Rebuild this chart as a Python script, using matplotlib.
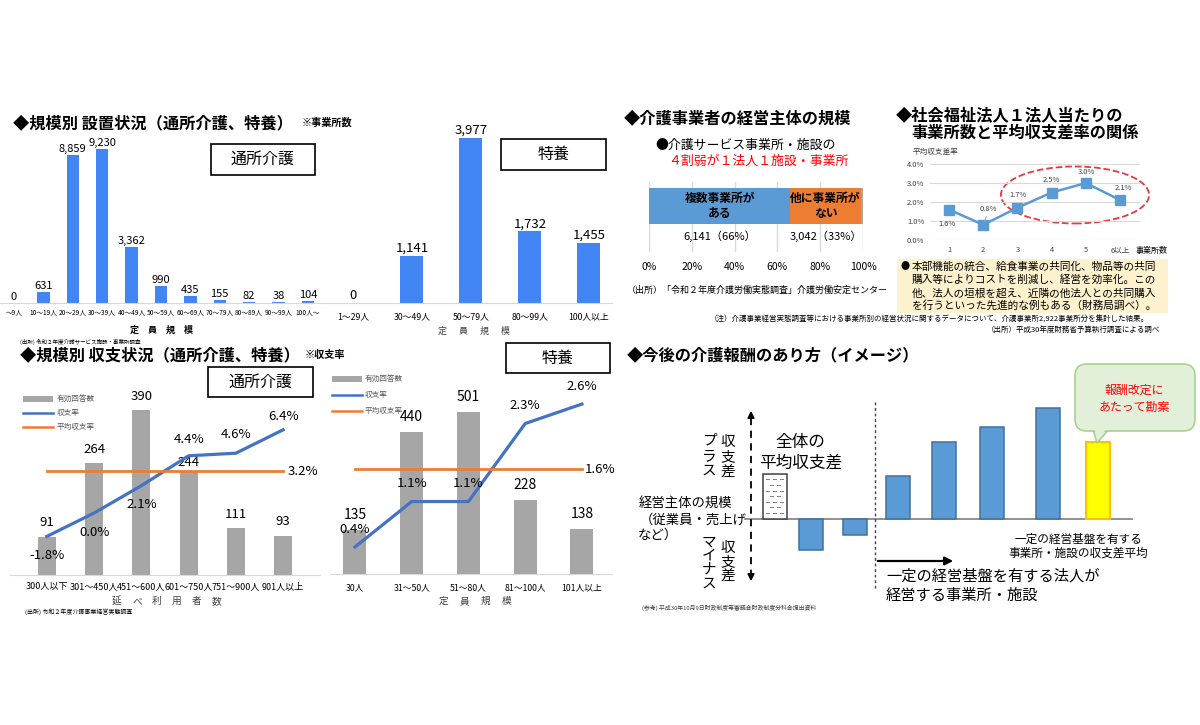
import numpy as np
import matplotlib
matplotlib.use('Agg')
import matplotlib.pyplot as plt
from matplotlib.patches import Rectangle, Ellipse, FancyBboxPatch, Polygon
from matplotlib.lines import Line2D

plt.rcParams['font.family'] = ['Noto Sans CJK JP', 'DejaVu Sans']

## Data

# 規模別 設置状況 (通所介護)
day_cats = ['～9人', '10～19人', '20～29人', '30～39人', '40～49人', '50～59人',
            '60～69人', '70～79人', '80～89人', '90～99人', '100人～']
day_counts = [0, 631, 8859, 9230, 3362, 990, 435, 155, 82, 38, 104]

# 規模別 設置状況 (特養)
tok_cats = ['1～29人', '30～49人', '50～79人', '80～99人', '100人以上']
tok_counts = [0, 1141, 3977, 1732, 1455]

# 規模別 収支状況 (通所介護)
day_users = ['300人以下', '301～450人', '451～600人', '601～750人', '751～900人', '901人以上']
day_n = [91, 264, 390, 244, 111, 93]
day_rate = [-1.8, 0.0, 2.1, 4.4, 4.6, 6.4]
day_avg = 3.2

# 規模別 収支状況 (特養)
tok_cap = ['30人', '31～50人', '51～80人', '81～100人', '101人以上']
tok_n = [135, 440, 501, 228, 138]
tok_rate = [0.4, 1.1, 1.1, 2.3, 2.6]
tok_avg = 1.6

# 介護事業者の経営主体の規模
owner_labels = ['複数事業所が\nある', '他に事業所が\nない', '']
owner_share = [66, 33, 1]
owner_counts = [6141, 3042]

# 社会福祉法人1法人当たりの事業所数と平均収支差率
office_cats = ['1', '2', '3', '4', '5', '6以上']
office_rate = [1.6, 0.8, 1.7, 2.5, 3.0, 2.1]

# 今後の介護報酬のあり方 (イメージ, arbitrary units)
image_vals = [45, -31, -16, 43, 77, 92, 111, 77]

## Layout helpers (pixel coords, origin top-left)

W, H = 1200, 725
fig = plt.figure(figsize=(12, 7.25), dpi=100)


def fx(x):
    return x / W


def fy(y):
    return 1 - y / H


def px_axes(x0, y0, x1, y1):
    return fig.add_axes([x0 / W, 1 - y1 / H, (x1 - x0) / W, (y1 - y0) / H])


def ftext(x, y, s, **kw):
    kw.setdefault('va', 'center')
    return fig.text(fx(x), fy(y), s, **kw)


def spaced(xc, y, chars, step, **kw):
    n = len(chars)
    for i, c in enumerate(chars):
        ftext(xc + (i - (n - 1) / 2) * step, y, c, ha='center', **kw)


def frame_box(x0, y0, x1, y1, label):
    fig.add_artist(Rectangle((fx(x0), fy(y1)), fx(x1) - fx(x0), fy(y0) - fy(y1),
                             transform=fig.transFigure, fc='white', ec='black',
                             lw=1.2, zorder=5))
    ftext((x0 + x1) / 2, (y0 + y1) / 2, label, ha='center', fontsize=11.5, zorder=6)


def fline(x0, x1, y0, y1, **kw):
    fig.add_artist(Line2D([fx(x0), fx(x1)], [fy(y0), fy(y1)],
                          transform=fig.transFigure, **kw))


def clean(ax):
    for s in ['top', 'left', 'right']:
        ax.spines[s].set_visible(False)
    ax.spines['bottom'].set_color('#D9D9D9')
    ax.set_yticks([])
    ax.tick_params(axis='x', length=0)
    ax.patch.set_alpha(0)


TITLE = dict(fontsize=11.7, fontweight='bold', ha='left')
BLUE = '#4286F5'
GRAY = '#A6A6A6'
LBLUE = '#4472C4'
ORANGE = '#ED7D31'

## Panel 1: 通所介護 設置状況
ftext(13, 123, '◆規模別 設置状況（通所介護、特養）', **TITLE)
ftext(302, 123, '※事業所数', fontsize=7.3, fontweight='bold', ha='left')

ax1 = px_axes(0, 130, 325, 303)
x = np.arange(len(day_cats))
ax1.bar(x, day_counts, width=0.42, color=BLUE)
for xi, v in zip(x, day_counts):
    ax1.annotate(f'{v:,}', (xi, v), xytext=(0, 1), textcoords='offset pixels',
                 ha='center', va='bottom', fontsize=8)
ax1.set_xlim(-0.476, 10.58)
ax1.set_ylim(0, 10370)
ax1.set_xticks(x, day_cats)
clean(ax1)
ax1.tick_params(axis='x', labelsize=4.8, pad=4)
frame_box(211, 144, 315, 175, '通所介護')
spaced(161, 330, '定員規模', 18, fontsize=6.5, fontweight='bold')
ftext(20, 342, '(出所) 令和２年度介護サービス施設・事業所調査', fontsize=4, ha='left')

## Panel 2: 特養 設置状況
ax2 = px_axes(322, 130, 612, 303)
x = np.arange(len(tok_cats))
ax2.bar(x, tok_counts, width=0.39, color=BLUE)
for xi, v in zip(x, tok_counts):
    ax2.annotate(f'{v:,}', (xi, v), xytext=(0, 1), textcoords='offset pixels',
                 ha='center', va='bottom', fontsize=9.5)
ax2.set_xlim(-0.525, 4.39)
ax2.set_ylim(0, 4170)
ax2.set_xticks(x, tok_cats)
clean(ax2)
ax2.tick_params(axis='x', labelsize=6.3, pad=7)
frame_box(501, 139, 606, 170, '特養')
spaced(474, 331, '定員規模', 21, fontsize=6.5, color='#404040')

## Panel 3: 通所介護 収支状況
ftext(20, 355, '◆規模別 収支状況（通所介護、特養）', **TITLE)
ftext(305, 355, '※収支率', fontsize=7.3, fontweight='bold', ha='left')

ax3 = px_axes(10, 380, 320, 575)
x = np.arange(len(day_users))
ax3.bar(x, day_n, width=0.38, color=GRAY)
n_off = [14, 14, 14, 9, 14, 14]
for xi, v, o in zip(x, day_n, n_off):
    ax3.annotate(f'{v}', (xi, v), xytext=(0, o), textcoords='offset pixels',
                 ha='center', va='center', fontsize=9.5)
ax3.set_xlim(-0.78, 5.78)
ax3.set_ylim(0, 461)
ax3.set_xticks(x, day_users)
clean(ax3)
ax3.tick_params(axis='x', labelsize=6.5, pad=5)
ax3b = ax3.twinx()
ax3b.set_ylim(-4.77, 10.23)
ax3b.axis('off')
ax3b.plot(x, day_rate, color=LBLUE, lw=2.3)
ax3b.plot([x[0], x[-1]], [day_avg, day_avg], color=ORANGE, lw=2)
r_off = [-19, -20, -19, 16, 19, 13]
for xi, v, o in zip(x, day_rate, r_off):
    ax3b.annotate(f'{v:.1f}%', (xi, v), xytext=(0, o), textcoords='offset pixels',
                  ha='center', va='center', fontsize=9.5)
ax3b.annotate(f'{day_avg:.1f}%', (x[-1], day_avg), xytext=(5, 0),
              textcoords='offset pixels', ha='left', va='center', fontsize=9.5)
frame_box(208, 367, 313, 397, '通所介護')
# legend
fig.add_artist(Rectangle((fx(23), fy(402)), fx(53) - fx(23), fy(396) - fy(402),
                         transform=fig.transFigure, fc=GRAY, ec='none'))
fline(23, 53, 413, 413, color=LBLUE, lw=1.8)
fline(23, 53, 427, 427, color=ORANGE, lw=1.8)
for yy, s in zip([399, 413, 427], ['有効回答数', '収支率', '平均収支率']):
    ftext(57, yy, s, fontsize=5.5, color='#595959', ha='left')
spaced(167, 601, '延べ利用者数', 20, fontsize=7, color='#404040')
ftext(25, 612, '(出所) 令和２年度介護事業経営実態調査', fontsize=4.3, ha='left')

## Panel 4: 特養 収支状況
ax4 = px_axes(330, 380, 612, 574)
x = np.arange(len(tok_cap))
ax4.bar(x, tok_n, width=0.405, color=GRAY)
for xi, v in zip(x, tok_n):
    ax4.annotate(f'{v}', (xi, v), xytext=(0, 15), textcoords='offset pixels',
                 ha='center', va='center', fontsize=10)
ax4.set_xlim(-0.44, 4.53)
ax4.set_ylim(0, 600)
ax4.set_xticks(x, tok_cap)
clean(ax4)
ax4.tick_params(axis='x', labelsize=6.3, pad=6.5)
ax4b = ax4.twinx()
ax4b.set_ylim(-0.015, 2.97)
ax4b.axis('off')
ax4b.plot(x, tok_rate, color=LBLUE, lw=2.3)
ax4b.plot([x[0], x[-1]], [tok_avg, tok_avg], color=ORANGE, lw=2)
for xi, v in zip(x, tok_rate):
    ax4b.annotate(f'{v:.1f}%', (xi, v), xytext=(0, 18), textcoords='offset pixels',
                  ha='center', va='center', fontsize=9.5)
ax4b.annotate(f'{tok_avg:.1f}%', (x[-1], tok_avg), xytext=(3, 0),
              textcoords='offset pixels', ha='left', va='center', fontsize=9.5)
frame_box(506, 343, 610, 373, '特養')
fig.add_artist(Rectangle((fx(332), fy(382)), fx(362) - fx(332), fy(376) - fy(382),
                         transform=fig.transFigure, fc=GRAY, ec='none'))
fline(332, 362, 395, 395, color=LBLUE, lw=1.8)
fline(332, 362, 411, 411, color=ORANGE, lw=1.8)
for yy, s in zip([379, 395, 411], ['有効回答数', '収支率', '平均収支率']):
    ftext(365, yy, s, fontsize=5.5, color='#595959', ha='left')
spaced(475, 601, '定員規模', 21, fontsize=7, color='#404040')

## Panel 5: 経営主体の規模
ftext(624, 118, '◆介護事業者の経営主体の規模', **TITLE)
ftext(655, 145, '●介護サービス事業所・施設の', fontsize=9.3, ha='left')
ftext(668, 161, '４割弱が１法人１施設・事業所', fontsize=9.3, ha='left', color='#FF0000')

ax5 = px_axes(649, 182, 863, 252)
left = np.cumsum([0] + owner_share[:-1])
seg_colors = ['#5B9BD5', ORANGE, GRAY]
ax5.barh(0.657, owner_share, left=left, height=0.514, color=seg_colors, zorder=3)
for i, (lab, s, l0) in enumerate(zip(owner_labels, owner_share, left)):
    if lab:
        ax5.text(l0 + s / 2, 0.657, lab, ha='center', va='center', fontsize=8.5,
                 fontweight='bold', linespacing=1.25, zorder=4)
for cnt, s, l0 in zip(owner_counts, owner_share, left):
    ax5.text(l0 + s / 2, 0.229, f'{cnt:,}（{s}%）', ha='center', va='center', fontsize=8)
ax5.set_xlim(0, 100)
ax5.set_ylim(0, 1)
ax5.set_xticks(range(0, 101, 20), [f'{v}%' for v in range(0, 101, 20)])
ax5.set_yticks([])
ax5.grid(axis='x', color='#D9D9D9', lw=1, zorder=0)
for s in ax5.spines.values():
    s.set_visible(False)
ax5.tick_params(axis='x', length=0, labelsize=7.5, pad=7)
ax5.patch.set_alpha(0)
ftext(627, 290, '（出所）「令和２年度介護労働実態調査」介護労働安定センター', fontsize=6.5, ha='left')

## Panel 6: 1法人当たり事業所数と平均収支差率
ftext(896, 115, '◆社会福祉法人１法人当たりの', **TITLE)
ftext(911, 133, '事業所数と平均収支差率の関係', **TITLE)
ftext(935, 152, '平均収支差率', fontsize=5.5, ha='center', color='#404040')

ax6 = px_axes(930, 164, 1140, 240)
x = np.arange(len(office_cats))
ax6.plot(x, office_rate, color='#5B9BD5', lw=1.8, marker='s', ms=6.5, zorder=3)
ax6.set_xlim(-0.556, 5.58)
ax6.set_ylim(0, 4)
ax6.set_yticks(np.arange(0, 4.1, 1.0), [f'{v:.1f}%' for v in np.arange(0, 4.1, 1.0)])
ax6.set_xticks(x, office_cats)
ax6.grid(axis='y', color='#D9D9D9', lw=0.8, zorder=0)
for s in ax6.spines.values():
    s.set_visible(False)
ax6.tick_params(length=0, labelsize=5.4, labelcolor='#404040')
ax6.tick_params(axis='x', pad=4.5)
ax6.tick_params(axis='y', pad=4)
ax6.patch.set_alpha(0)
dxs = [-2, 5, 0, 0, 0, 3]
dys = [-14, 16, 13, 12, 11, 12]
for xi, v, dx, dy in zip(x, office_rate, dxs, dys):
    ax6.annotate(f'{v:.1f}%', (xi, v), xytext=(dx, dy), textcoords='offset pixels',
                 ha='center', va='center', fontsize=5.4, color='#404040')
ax6.annotate('', (x[1], office_rate[1]), xytext=(4, 11), textcoords='offset pixels',
             arrowprops=dict(arrowstyle='-', color='#A0A0A0', lw=0.6))
ax6.add_patch(Ellipse((3.68, 2.37), 4.33, 3.0, fill=False, ec='#E8383D', ls='--',
                      lw=1.3, clip_on=False))
ftext(1152, 250, '事業所数', fontsize=5.8, ha='center')

fig.add_artist(Rectangle((fx(897), fy(313)), fx(1168) - fx(897), fy(259) - fy(313),
                         transform=fig.transFigure, fc='#FEF2CE', ec='none', zorder=1))
note = ['本部機能の統合、給食事業の共同化、物品等の共同',
        '購入等によりコストを削減し、経営を効率化。この',
        '他、法人の垣根を超え、近隣の他法人との共同購入',
        'を行うといった先進的な例もある（財務局調べ）。']
ftext(905, 267, '●', fontsize=6.5, ha='center', zorder=2)
for yy, s in zip([267, 280, 293, 305], note):
    ftext(912, yy, s, fontsize=7.7, ha='left', zorder=2)
ftext(710, 320, '（注）介護事業経営実態調査等における事業所別の経営状況に関するデータについて、介護事業所2,922事業所分を集計した結果。',
      fontsize=5.4, ha='left')
ftext(1160, 330, '（出所）平成30年度財務省予算執行調査による調べ', fontsize=5.4, ha='right')

## Panel 7: 今後の介護報酬のあり方 (イメージ)
ftext(627, 355, '◆今後の介護報酬のあり方（イメージ）', **TITLE)

BASE = 519
ax7 = px_axes(620, 345, 1200, 625)
ax7.set_xlim(620, 1200)
ax7.set_ylim(BASE - 625, BASE - 345)
ax7.axis('off')

image_x = [775, 811, 855, 898, 944, 992, 1048, 1098]
ax7.plot([745, 1132], [0, 0], color='#7F7F7F', lw=1.2, zorder=1)
for i, (xc, v) in enumerate(zip(image_x, image_vals)):
    if i == 0:
        ax7.bar(xc, v, width=24, fc='white', ec='#404040', lw=1.1, zorder=2)
        # small dash texture of the "全体の平均収支差" box
        rows = np.arange(6, v - 3, 5.6)
        for r, yy in enumerate(rows):
            shift = 0 if r % 2 == 0 else 3.5
            for x0 in np.arange(xc - 9 + shift, xc + 8, 7):
                ax7.plot([x0, x0 + 3], [yy, yy], color='#7F7F7F', lw=0.7, zorder=3)
    elif i == len(image_vals) - 1:
        ax7.bar(xc, v, width=24, color='#FFFF00', ec='#FFC000', lw=1.5, zorder=2)
    else:
        ax7.bar(xc, v, width=24, color='#5B9BD5', ec='#41719C', lw=1.1, zorder=2)

# vertical dashed double arrow
ax7.plot([751, 751], [BASE - 418, BASE - 574], color='black', lw=1.3, ls=(0, (4, 3)))
ax7.annotate('', (751, BASE - 408), xytext=(751, BASE - 420),
             arrowprops=dict(arrowstyle='-|>', color='black', lw=1.2, mutation_scale=10))
ax7.annotate('', (751, BASE - 584), xytext=(751, BASE - 572),
             arrowprops=dict(arrowstyle='-|>', color='black', lw=1.2, mutation_scale=10))
# dotted divider and right arrow
ax7.plot([875, 875], [BASE - 402, BASE - 590], color='#404040', lw=1, ls=(0, (2, 2)))
ax7.annotate('', (956, BASE - 561), xytext=(875, BASE - 561),
             arrowprops=dict(arrowstyle='-|>', color='black', lw=1.6, mutation_scale=12))

# callout
ax7.add_patch(Polygon([(1093, BASE - 429), (1097, BASE - 443), (1109, BASE - 429)],
                      closed=True, fc='#E2F0D9', ec='#A9D18E', lw=1.2, zorder=4))
ax7.add_patch(FancyBboxPatch((1075, BASE - 431), 120, 67,
                             boxstyle='round,pad=0,rounding_size=12',
                             fc='#E2F0D9', ec='#A9D18E', lw=1.2, zorder=5))
ax7.add_patch(Polygon([(1094.5, BASE - 428), (1097.2, BASE - 439), (1107, BASE - 428)],
                      closed=True, fc='#E2F0D9', ec='none', zorder=6))
ftext(1134, 390, '報酬改定に', fontsize=8.6, ha='center', color='#FF0000', zorder=7)
ftext(1134, 407, 'あたって勘案', fontsize=8.6, ha='center', color='#FF0000', zorder=7)

for i, c in enumerate('プラス'):
    ftext(709, 441 + i * 15, c, fontsize=10.5, ha='center')
for i, c in enumerate('収支差'):
    ftext(728, 442 + i * 15, c, fontsize=10.5, ha='center')
for i, c in enumerate('マイナス'):
    ftext(709, 542 + i * 14, c, fontsize=10.5, ha='center')
for i, c in enumerate('収支差'):
    ftext(728, 548 + i * 14, c, fontsize=10.5, ha='center')

ftext(800, 443, '全体の', fontsize=12, ha='center')
ftext(801, 463, '平均収支差', fontsize=12, ha='center')
ftext(639, 503, '経営主体の規模', fontsize=9.6, ha='left')
ftext(640, 520, '（従業員・売上げ', fontsize=9.6, ha='left')
ftext(638, 535, 'など）', fontsize=9.6, ha='left')
ftext(1078, 539, '一定の経営基盤を有する', fontsize=8.4, ha='center')
ftext(1078, 553, '事業所・施設の収支差平均', fontsize=8.4, ha='center')
ftext(886, 576, '一定の経営基盤を有する法人が', fontsize=11, ha='left')
ftext(886, 595, '経営する事業所・施設', fontsize=11, ha='left')
ftext(642, 608, '(参考) 平成30年10月9日財政制度等審議会財政制度分科会提出資料',
      fontsize=4.2, ha='left', color='#404040')

fig.savefig('out.png', dpi=100)
